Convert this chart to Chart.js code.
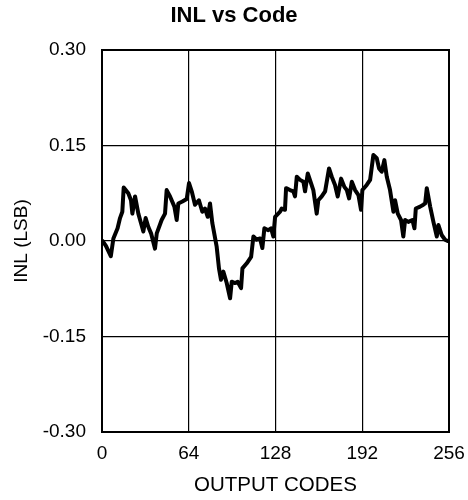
<!DOCTYPE html>
<html>
<head>
<meta charset="utf-8">
<script src="https://cdn.jsdelivr.net/npm/chart.js@4.4.1/dist/chart.umd.min.js"></script>
<style>
  html, body { margin: 0; padding: 0; background: #fff; }
  #wrap { width: 468px; height: 500px; }
</style>
</head>
<body>
<div id="wrap"><canvas id="c" width="468" height="500"></canvas></div>
<script>
const chartTitle = "INL vs Code";
const xAxisTitle = "OUTPUT CODES";
const yAxisTitle = "INL (LSB)";
const xTicks = [0, 64, 128, 192, 256];
const yTicks = [-0.30, -0.15, 0.00, 0.15, 0.30];

const codes = [0.5, 3, 6.5, 8.4, 11.5, 13.3, 15, 16, 17.5, 19.4, 21.4, 22.4, 24.4, 26.8, 28.8, 30.5, 32.2, 34.2, 36.2, 39.1,
  40.4, 44, 46.5, 47.7, 50.2, 53.4, 55.1, 56.3, 59.3, 62.5, 64.2, 66.2, 68.6, 71.5, 74, 76, 78, 79.7, 81.4, 84.6,
  86.3, 87.8, 89.5, 92, 94.5, 95.7, 98.2, 100.1, 102.6, 103.6, 106.8, 110, 111.7, 114.1, 116.6, 118.3, 119.8, 122.7, 124.7, 126.4,
  127.7, 131.4, 132.6, 135, 135.8, 138.7, 141.2, 142.4, 143.7, 146.1, 148.6, 149.8, 151.8, 154.2, 155.9, 158.4, 159.6, 162.1, 164.6, 167.5,
  169.5, 171.9, 173.9, 176.4, 178.8, 180.6, 182.3, 184.3, 186.7, 189.2, 191.1, 192.1, 195.3, 197.8, 200.2, 202.7, 204.4, 206.4, 208.3, 210.1,
  212.5, 215, 216.2, 218.2, 220.6, 222.3, 223.6, 226, 229, 230.5, 231.5, 234.7, 237.1, 238.4, 239.6, 242.1, 244.5, 247, 248.2, 250.7,
  253.1, 255];
const inl = [0.000, -0.008, -0.024, 0.004, 0.020, 0.036, 0.046, 0.084, 0.080, 0.075, 0.064, 0.043, 0.070, 0.043, 0.028, 0.015, 0.036, 0.022, 0.012, -0.012,
  0.012, 0.033, 0.043, 0.080, 0.070, 0.054, 0.033, 0.059, 0.062, 0.066, 0.091, 0.078, 0.057, 0.064, 0.046, 0.051, 0.038, 0.059, 0.028, -0.009,
  -0.043, -0.061, -0.048, -0.066, -0.090, -0.064, -0.066, -0.064, -0.074, -0.043, -0.035, -0.025, 0.007, 0.002, 0.004, -0.011, 0.020, 0.017, 0.020, 0.007,
  0.038, 0.046, 0.051, 0.049, 0.083, 0.080, 0.078, 0.070, 0.101, 0.096, 0.093, 0.078, 0.106, 0.091, 0.080, 0.043, 0.064, 0.070, 0.078, 0.114,
  0.101, 0.088, 0.070, 0.098, 0.085, 0.080, 0.067, 0.093, 0.080, 0.072, 0.049, 0.080, 0.088, 0.096, 0.135, 0.130, 0.114, 0.109, 0.127, 0.101,
  0.080, 0.046, 0.064, 0.043, 0.033, 0.007, 0.033, 0.030, 0.033, 0.020, 0.051, 0.054, 0.057, 0.059, 0.083, 0.054, 0.030, 0.007, 0.025, 0.009,
  0.002, 0.000];

const FONT = "'Liberation Sans', Arial, Helvetica, sans-serif";
const points = codes.map((c, i) => ({ x: c, y: inl[i] }));

new Chart(document.getElementById('c'), {
  type: 'line',
  data: {
    datasets: [{
      data: points,
      borderColor: '#000',
      borderWidth: 4,
      pointRadius: 0,
      tension: 0,
      borderJoinStyle: 'round',
      borderCapStyle: 'round',
      fill: false
    }]
  },
  options: {
    responsive: false,
    animation: false,
    devicePixelRatio: 1,
    layout: { padding: 0 },
    plugins: {
      legend: { display: false },
      tooltip: { enabled: false },
      title: {
        display: true,
        text: chartTitle,
        color: '#000',
        font: { family: FONT, size: 22, weight: 'bold' },
        padding: { top: 3, bottom: 20.6 }
      }
    },
    scales: {
      x: {
        type: 'linear',
        min: 0, max: 256,
        afterBuildTicks: (s) => { s.ticks = xTicks.map(v => ({ value: v })); },
        afterFit: (s) => { s.height = 68; s.paddingLeft = 0; s.paddingRight = 0; },
        ticks: {
          color: '#000',
          font: { family: FONT, size: 19 },
          padding: 10,
          maxRotation: 0,
          autoSkip: false,
          callback: (v) => String(v)
        },
        grid: { color: '#000', lineWidth: 1.2, drawTicks: false },
        border: { color: '#000', width: 2 },
        title: {
          display: true,
          text: xAxisTitle,
          color: '#000',
          font: { family: FONT, size: 20.5 },
          padding: { top: 0, bottom: 2 }
        }
      },
      y: {
        type: 'linear',
        min: -0.30, max: 0.30,
        afterBuildTicks: (s) => { s.ticks = yTicks.map(v => ({ value: v })); },
        afterFit: (s) => { s.width = 102; s.paddingTop = 0; s.paddingBottom = 0; },
        ticks: {
          color: '#000',
          font: { family: FONT, size: 19 },
          padding: 16,
          autoSkip: false,
          callback: (v) => Number(v).toFixed(2)
        },
        grid: { color: '#000', lineWidth: 1.2, drawTicks: false },
        border: { color: '#000', width: 2 },
        title: {
          display: true,
          text: yAxisTitle,
          color: '#000',
          font: { family: FONT, size: 19 },
          padding: { top: 10, bottom: 0 }
        }
      },
      yRight: {
        type: 'linear',
        position: 'right',
        min: -0.30, max: 0.30,
        afterFit: (s) => { s.width = 19; s.paddingTop = 0; s.paddingBottom = 0; },
        ticks: { display: false },
        grid: { display: false, drawTicks: false },
        border: { display: false }
      }
    }
  },
  plugins: [{
    id: 'frame',
    afterDraw(chart) {
      const { ctx, chartArea: a } = chart;
      ctx.save();
      ctx.strokeStyle = '#000';
      ctx.lineWidth = 2;
      ctx.strokeRect(a.left, a.top, a.right - a.left, a.bottom - a.top);
      ctx.restore();
    }
  }]
});
</script>
</body>
</html>
